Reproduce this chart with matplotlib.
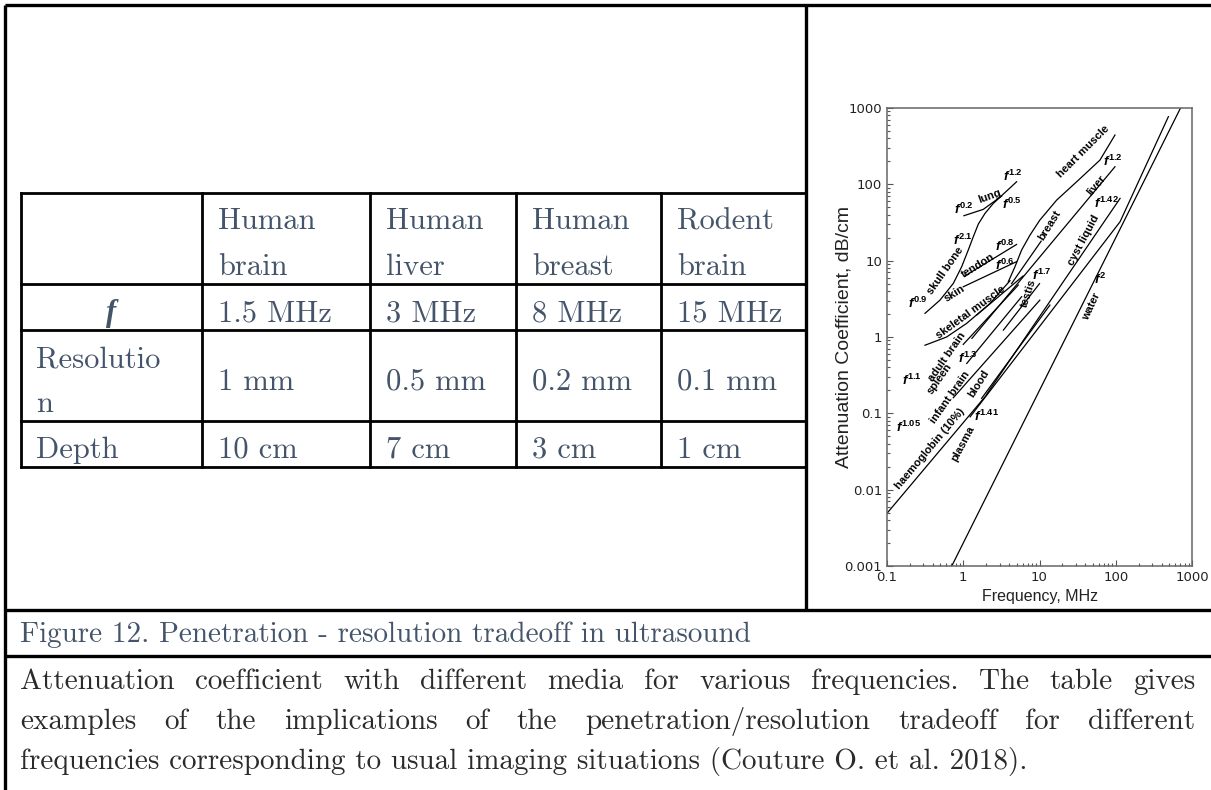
import numpy as np
import matplotlib.pyplot as plt

plt.rcParams['mathtext.fontset'] = 'custom'
plt.rcParams['mathtext.it'] = 'Liberation Sans:italic:bold'
plt.rcParams['mathtext.rm'] = 'Liberation Sans:bold'

# table contents
col_heads = [('Human', 'brain'), ('Human', 'liver'), ('Human', 'breast'), ('Rodent', 'brain')]
freq_row = ['1.5 MHz', '3 MHz', '8 MHz', '15 MHz']
res_row = ['1 mm', '0.5 mm', '0.2 mm', '0.1 mm']
depth_row = ['10 cm', '7 cm', '3 cm', '1 cm']

title = 'Figure 12. Penetration - resolution tradeoff in ultrasound'
caption = ['Attenuation coefficient with different media for various frequencies. The table gives',
           'examples of the implications of the penetration/resolution tradeoff for different',
           'frequencies corresponding to usual imaging situations (Couture O. et al. 2018).']

# attenuation curves: frequency (MHz) and attenuation (dB/cm)
lung_f = [1.02, 1.83, 3.19]
lung_a = [38.8, 47.0, 70.3]
bone_f = [0.315, 0.495, 0.741, 0.953, 1.164, 1.355, 1.578, 1.928, 2.477, 3.357, 5.01]
bone_a = [2.04, 3.04, 5.04, 8.32, 13.8, 20.6, 30.2, 41.6, 56.2, 74.6, 108]
tendon_f = [1.05, 5.0]
tendon_a = [6.3, 16.3]
skin_f = [1.0, 5.0]
skin_a = [4.55, 9.7]
muscle_f = [0.315, 0.605, 1.11, 2.24, 4.10]
muscle_a = [0.78, 1.0, 1.51, 2.75, 5.46]
muscle2_f = [1.5, 6.1]
muscle2_a = [1.94, 6.3]
heart_f = [3.9, 4.76, 5.83, 7.5, 10.1, 16.8, 30.7, 62.1, 97.7]
heart_a = [5.3, 8.3, 13.8, 21.6, 34.0, 62.2, 108, 208, 443]
breast_f = [4.3, 10.5]
breast_a = [5.0, 18.0]
liver_f = [1.3, 97.7]
liver_a = [0.96, 170]
adult_f = [1.0, 5.27]
adult_a = [0.8, 4.79]
spleen_f = [1.11, 5.83]
spleen_a = [0.45, 3.37]
infant_f = [0.74, 10.1]
infant_a = [0.16, 3.04]
blood_f = [1.74, 13.7]
blood_a = [0.157, 2.62]
testis_f = [3.36, 10.0]
testis_a = [1.23, 5.0]
haemo_f = [0.1, 2.03]
haemo_a = [0.0049, 0.175]
cyst_f = [2.03, 114]
cyst_a = [0.178, 65.5]
plasma_f = [1.23, 114, 490]
plasma_a = [0.09, 32.4, 770]
water_f = [0.707, 707]
water_a = [0.001, 1000]

curves = [(lung_f, lung_a), (bone_f, bone_a), (tendon_f, tendon_a), (skin_f, skin_a),
          (muscle_f, muscle_a), (muscle2_f, muscle2_a), (heart_f, heart_a),
          (breast_f, breast_a), (liver_f, liver_a), (adult_f, adult_a),
          (spleen_f, spleen_a), (infant_f, infant_a), (blood_f, blood_a),
          (testis_f, testis_a), (haemo_f, haemo_a), (cyst_f, cyst_a),
          (plasma_f, plasma_a), (water_f, water_a)]

# curve names and power-law tags: text, f, a, rotation
labels = [
    ('lung', 2.24, 69, 20), ('skull bone', 0.575, 7.5, 55), ('tendon', 1.58, 8.7, 32),
    ('skin', 0.78, 3.7, 32), ('skeletal muscle', 1.25, 2.1, 36), ('breast', 13.7, 29, 58),
    ('heart muscle', 37.6, 268, 45), ('liver', 56, 98, 50), ('cyst liquid', 37.6, 18.6, 62),
    ('testis', 7.1, 3.7, 72), ('water', 48, 2.5, 65), ('adult brain', 0.605, 0.55, 55),
    ('spleen', 0.495, 0.286, 55), ('infant brain', 0.67, 0.164, 55), ('blood', 1.58, 0.246, 58),
    ('haemoglobin (10%)', 0.366, 0.0346, 50), ('plasma', 1.0, 0.040, 62),
]
tags = [
    ('0.2', 1.02, 47), ('1.2', 4.5, 126), ('0.5', 4.3, 54), ('2.1', 1.0, 18.6),
    ('0.9', 0.258, 2.75), ('0.8', 3.5, 15.2), ('0.6', 3.5, 8.7), ('1.2', 93, 198),
    ('1.42', 76, 56), ('1.7', 10.7, 6.5), ('2', 62, 5.6), ('1.1', 0.21, 0.27),
    ('1.3', 1.16, 0.52), ('1.05', 0.19, 0.066), ('1.41', 2.03, 0.09),
]

W, H = 1211, 790
fig = plt.figure(figsize=(W / 100, H / 100), dpi=100)
bg = fig.add_axes([0, 0, 1, 1])
bg.set_xlim(0, W)
bg.set_ylim(H, 0)
bg.axis('off')

# page frame
frame_kw = dict(color='black', lw=2.4, solid_capstyle='butt')
bg.plot([5, W], [5, 5], **frame_kw)
bg.plot([5, 5], [5, H], **frame_kw)
bg.plot([806, 806], [5, 610], **frame_kw)
bg.plot([5, W], [610, 610], **frame_kw)
bg.plot([5, W], [656, 656], **frame_kw)

# table
ink = '#44546A'
serif = 'cmr10'
tsize = 22
col_x = [21, 202, 370, 516, 661, 806]
row_y = [193, 284, 330, 421, 467]
for x in col_x:
    bg.plot([x, x], [row_y[0], row_y[-1]], color='black', lw=2.0)
for y in row_y:
    bg.plot([col_x[0], col_x[-1]], [y, y], color='black', lw=2.0)
for i in range(4):
    x = col_x[i + 1] + 16
    bg.text(x, 229, col_heads[i][0], fontsize=tsize, family=serif, color=ink)
    bg.text(x, 275, col_heads[i][1], fontsize=tsize, family=serif, color=ink)
    bg.text(x, 321, freq_row[i], fontsize=tsize, family=serif, color=ink)
    bg.text(x, 390, res_row[i], fontsize=tsize, family=serif, color=ink)
    bg.text(x, 458, depth_row[i], fontsize=tsize, family=serif, color=ink)
bg.text(111, 321, 'f', fontsize=tsize, family='Liberation Serif', weight='bold',
        style='italic', color=ink, ha='center')
bg.text(36, 367, 'Resolutio', fontsize=tsize, family=serif, color=ink)
bg.text(36, 412, 'n', fontsize=tsize, family=serif, color=ink)
bg.text(36, 458, 'Depth', fontsize=tsize, family=serif, color=ink)

# caption
bg.text(20, 642, title, fontsize=21, family=serif, color=ink)
renderer = fig.canvas.get_renderer()
base_y = [689, 729, 769]
for k, line in enumerate(caption):
    if k == len(caption) - 1:
        bg.text(20, base_y[k], line, fontsize=21, family=serif, color='#2b2b2b')
        continue
    words = [bg.text(0, base_y[k], w, fontsize=21, family=serif, color='#2b2b2b')
             for w in line.split()]
    widths = [t.get_window_extent(renderer).width for t in words]
    gap = (1195 - 20 - sum(widths)) / (len(words) - 1)
    x = 20
    for t, w in zip(words, widths):
        t.set_x(x)
        x += w + gap

# attenuation chart
ax = fig.add_axes([887 / W, 1 - 566 / H, 305 / W, 458 / H])
for f, a in curves:
    ax.plot(f, a, color='black', lw=0.9)
ax.set_xscale('log')
ax.set_yscale('log')
ax.set_xlim(0.1, 1000)
ax.set_ylim(0.001, 1000)
ax.set_xticks([0.1, 1, 10, 100, 1000], ['0.1', '1', '10', '100', '1000'])
ax.set_yticks([0.001, 0.01, 0.1, 1, 10, 100, 1000],
              ['0.001', '0.01', '0.1', '1', '10', '100', '1000'])
ax.tick_params(which='both', direction='in', top=False, right=False,
               labelsize=9.5, colors='#555555', labelcolor='#222222', width=0.8)
ax.tick_params(which='major', length=4)
ax.tick_params(which='minor', length=2.5)
for s in ax.spines.values():
    s.set_color('#666666')
    s.set_linewidth(1.1)
ax.set_xlabel('Frequency, MHz', fontsize=11.5, family='Liberation Sans', color='#222222')
ax.set_ylabel('Attenuation Coefficient, dB/cm', fontsize=14, family='Liberation Sans',
              color='#222222')
ax.xaxis.set_label_coords(0.5, -0.05)
ax.yaxis.set_label_coords(-0.112, 0.5)

for text, f, a, rot in labels:
    ax.text(f, a, text, fontsize=8, family='Liberation Sans', weight='bold',
            rotation=rot, ha='center', va='center', rotation_mode='anchor')
for p, f, a in tags:
    ax.text(f, a, '$f^{%s}$' % p, fontsize=9.5, ha='center', va='center')

fig.savefig('out.png', dpi=100)
